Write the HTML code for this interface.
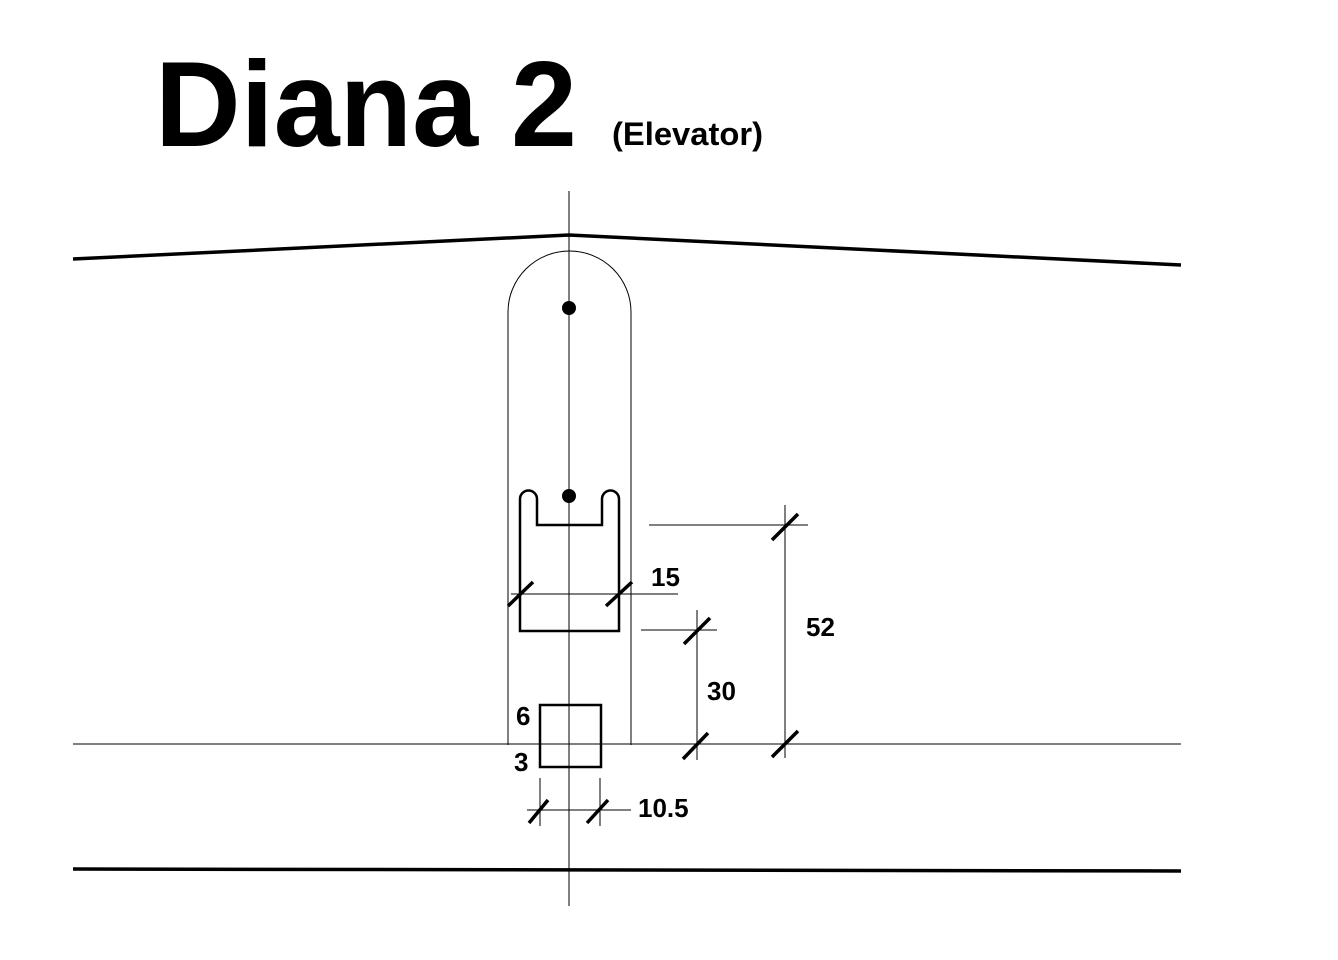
<!DOCTYPE html>
<html><head><style>
body{margin:0;background:#fff;}
svg{display:block}
text{font-family:"Liberation Sans",Arial,sans-serif;font-weight:bold;fill:#000}
</style></head><body>
<svg width="1338" height="960" viewBox="0 0 1338 960" xmlns="http://www.w3.org/2000/svg">
<text x="155" y="146" font-size="122" textLength="422" lengthAdjust="spacingAndGlyphs">Diana 2</text>
<text x="612" y="145" font-size="32" textLength="151" lengthAdjust="spacingAndGlyphs">(Elevator)</text>
<g stroke="#000" fill="none">
<polyline points="73,259 569,235 1181,265" stroke-width="3.5"/>
<line x1="73" y1="869" x2="1181" y2="871" stroke-width="3.5"/>
<line x1="569" y1="191" x2="569" y2="906" stroke-width="1"/>
<line x1="73" y1="744" x2="1181" y2="744" stroke-width="1"/>
<path d="M508,745 V312 A61.5,61 0 0 1 631,312 V745" stroke-width="1"/>
<path d="M520,631 V499 A8.5,8.5 0 0 1 537,499 V525 H602 V499 A8.5,8.5 0 0 1 619,499 V631 Z" stroke-width="2.5"/>
<rect x="540" y="705" width="61" height="62" stroke-width="2.5"/>
<line x1="511" y1="594" x2="678" y2="594" stroke-width="1"/>
<line x1="697" y1="610" x2="697" y2="760" stroke-width="1"/>
<line x1="641" y1="630" x2="717" y2="630" stroke-width="1"/>
<line x1="785" y1="505" x2="785" y2="758" stroke-width="1"/>
<line x1="649" y1="525" x2="808" y2="525" stroke-width="1"/>
<line x1="527" y1="810" x2="631" y2="810" stroke-width="1"/>
<line x1="540" y1="778" x2="540" y2="826" stroke-width="1"/>
<line x1="600" y1="778" x2="600" y2="826" stroke-width="1"/>
<g stroke-width="3.5">
<line x1="508" y1="606" x2="533" y2="582"/>
<line x1="606" y1="606" x2="632" y2="582"/>
<line x1="684" y1="644" x2="710" y2="618"/>
<line x1="683" y1="759" x2="708" y2="733"/>
<line x1="772" y1="540" x2="798" y2="514"/>
<line x1="772" y1="757" x2="798" y2="731"/>
<line x1="529" y1="823" x2="548" y2="800"/>
<line x1="587" y1="823" x2="608" y2="800"/>
</g>
</g>
<circle cx="569" cy="308" r="7" fill="#000"/>
<circle cx="569" cy="496" r="7" fill="#000"/>
<text x="651" y="586" font-size="26">15</text>
<text x="806" y="636" font-size="26">52</text>
<text x="707" y="700" font-size="26">30</text>
<text x="516" y="725" font-size="26">6</text>
<text x="514" y="771" font-size="26">3</text>
<text x="638" y="817" font-size="26">10.5</text>
</svg>
</body></html>
